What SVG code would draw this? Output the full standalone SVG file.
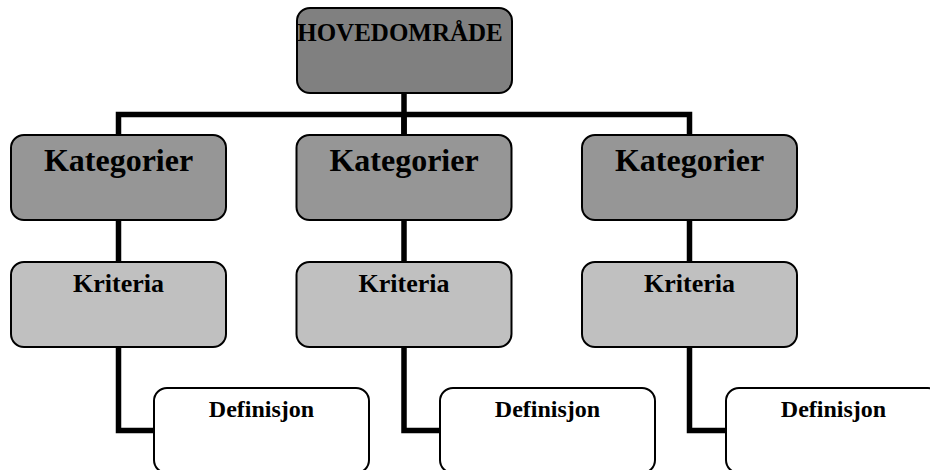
<svg xmlns="http://www.w3.org/2000/svg" width="930" height="470" viewBox="0 0 930 470">
  <style>
    .box { stroke: #000; stroke-width: 2; }
    .main { fill: #808080; }
    .cat { fill: #969696; }
    .crit { fill: #c0c0c0; }
    .def { fill: #fff; }
    .lbl { font-family: "Liberation Serif", "Times New Roman", serif; font-weight: bold; fill: #000; text-anchor: middle; }
    .wire { fill: none; stroke: #000; stroke-width: 5.5; stroke-linejoin: miter; }
  </style>
  <rect width="930" height="470" fill="#fff"/>

  <!-- connectors -->
  <g id="connectors">
    <path class="wire" d="M404 93 V135"/>
    <path class="wire" d="M118.5 135 V114.5 H689.5 V135"/>
    <path class="wire" d="M404 114.5 V135"/>
    <path class="wire" d="M118.5 220 V262"/>
    <path class="wire" d="M404 220 V262"/>
    <path class="wire" d="M689.5 220 V262"/>
    <path class="wire" d="M118.5 347 V430.5 H154"/>
    <path class="wire" d="M404 347 V430.5 H440"/>
    <path class="wire" d="M689.5 347 V430.5 H726"/>
  </g>

  <!-- top node -->
  <g id="hovedomrade">
    <rect class="box main" x="297" y="8" width="215" height="85" rx="13"/>
    <text class="lbl" x="400" y="41" font-size="25">HOVEDOMRÅDE</text>
  </g>

  <!-- categories -->
  <g id="kategori-1">
    <rect class="box cat" x="11" y="135" width="215" height="85" rx="13"/>
    <text class="lbl" x="118.5" y="171" font-size="32">Kategorier</text>
  </g>
  <g id="kategori-2">
    <rect class="box cat" x="296.5" y="135" width="215" height="85" rx="13"/>
    <text class="lbl" x="404" y="171" font-size="32">Kategorier</text>
  </g>
  <g id="kategori-3">
    <rect class="box cat" x="582" y="135" width="215" height="85" rx="13"/>
    <text class="lbl" x="689.5" y="171" font-size="32">Kategorier</text>
  </g>

  <!-- criteria -->
  <g id="kriteria-1">
    <rect class="box crit" x="11" y="262" width="215" height="85" rx="13"/>
    <text class="lbl" x="118.5" y="292" font-size="26">Kriteria</text>
  </g>
  <g id="kriteria-2">
    <rect class="box crit" x="296.5" y="262" width="215" height="85" rx="13"/>
    <text class="lbl" x="404" y="292" font-size="26">Kriteria</text>
  </g>
  <g id="kriteria-3">
    <rect class="box crit" x="582" y="262" width="215" height="85" rx="13"/>
    <text class="lbl" x="689.5" y="292" font-size="26">Kriteria</text>
  </g>

  <!-- definitions -->
  <g id="definisjon-1">
    <rect class="box def" x="154" y="388" width="215" height="85" rx="13"/>
    <text class="lbl" x="261.5" y="417" font-size="24">Definisjon</text>
  </g>
  <g id="definisjon-2">
    <rect class="box def" x="440" y="388" width="215" height="85" rx="13"/>
    <text class="lbl" x="547.5" y="417" font-size="24">Definisjon</text>
  </g>
  <g id="definisjon-3">
    <rect class="box def" x="726" y="388" width="215" height="85" rx="13"/>
    <text class="lbl" x="833.5" y="417" font-size="24">Definisjon</text>
  </g>
</svg>
